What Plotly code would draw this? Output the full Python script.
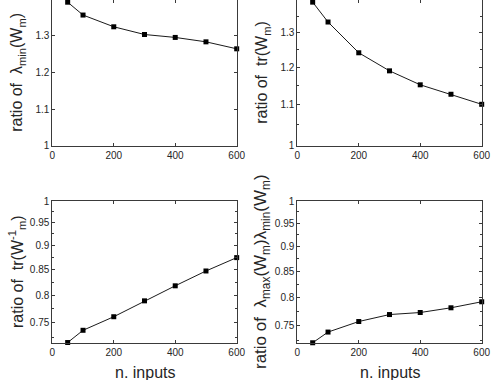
import numpy as np
import plotly.graph_objects as go
from plotly.subplots import make_subplots

# --- data ---
n_inputs = [50, 100, 200, 300, 400, 500, 600]
ratio_lmin = [1.391, 1.356, 1.324, 1.303, 1.295, 1.283, 1.264]
ratio_tr = [1.396, 1.333, 1.241, 1.190, 1.152, 1.127, 1.101]
ratio_tr_inv = [0.7156, 0.7366, 0.7606, 0.7897, 0.8183, 0.8475, 0.8747]
ratio_cond = [0.7210, 0.7390, 0.7572, 0.7695, 0.7731, 0.7816, 0.7925]

x_ticks = [0, 200, 400, 600]
top_ticks = [1, 1.1, 1.2, 1.3]
top_minor = [1.05, 1.15, 1.25, 1.35]
bot_ticks = [0.75, 0.8, 0.85, 0.9, 0.95, 1]
bot_minor = [0.725, 0.775, 0.825, 0.875, 0.925, 0.975]

titles = [
    "ratio of  λ<sub>min</sub>(W<sub>m</sub>)",
    "ratio of  tr(W<sub>m</sub>)",
    "ratio of  tr(W<sup>-1</sup><sub>m</sub>)",
    "ratio of  λ<sub>max</sub>(W<sub>m</sub>)λ<sub>min</sub>(W<sub>m</sub>)",
]

W, H = 491, 380
FONT = "Liberation Sans, Arial, sans-serif"
AXC = "#3a3a3a"

fig = make_subplots(rows=2, cols=2)

series = [ratio_lmin, ratio_tr, ratio_tr_inv, ratio_cond]
cells = [(1, 1), (1, 2), (2, 1), (2, 2)]
for (r, c), ys in zip(cells, series):
    fig.add_trace(go.Scatter(
        x=n_inputs, y=ys, mode="lines+markers",
        line=dict(color="#1a1a1a", width=1),
        marker=dict(symbol="square", size=5, color="black"),
        cliponaxis=False, showlegend=False), row=r, col=c)

# axes positions in pixels -> paper
xl = [52.3 / W, 236.7 / W]
xr = [297.3 / W, 481.7 / W]
yt = [1 - 145.7 / H, 1.0]
yb = [1 - 343 / H, 1 - 201 / H]

common_x = dict(range=[0, 600], tickvals=x_ticks, ticks="inside", ticklen=3,
                showline=True, linecolor=AXC, linewidth=1, mirror="allticks",
                tickcolor=AXC, showgrid=False, zeroline=False, automargin=False,
                tickfont=dict(size=10, color="#262626", family=FONT))
common_y = dict(ticks="inside", ticklen=3, showline=True, linecolor=AXC,
                linewidth=1, mirror="allticks", tickcolor=AXC, showgrid=False,
                zeroline=False, automargin=False,
                tickfont=dict(size=10, color="#262626", family=FONT))

fig.update_layout(
    xaxis=dict(domain=xl, **common_x),
    xaxis2=dict(domain=xr, **common_x),
    xaxis3=dict(domain=xl, **common_x),
    xaxis4=dict(domain=xr, **common_x),
    yaxis=dict(domain=yt, range=[1, 1.397], tickvals=top_ticks,
               ticktext=["1", "1.1", "1.2", "1.3"], **common_y),
    yaxis2=dict(domain=yt, type="log", range=[0, np.log10(1.403)],
                tickvals=top_ticks, ticktext=["1", "1.1", "1.2", "1.3"],
                minor=dict(tickvals=top_minor, ticks="inside", ticklen=2, tickcolor=AXC),
                **common_y),
    yaxis3=dict(domain=yb, type="log", range=[np.log10(0.7148), 0],
                tickvals=bot_ticks, ticktext=["0.75", "0.8", "0.85", "0.9", "0.95", "1"],
                minor=dict(tickvals=bot_minor, ticks="inside", ticklen=2, tickcolor=AXC),
                **common_y),
    yaxis4=dict(domain=yb, type="log", range=[np.log10(0.7206), 0],
                tickvals=bot_ticks, ticktext=["0.75", "0.8", "0.85", "0.9", "0.95", "1"],
                minor=dict(tickvals=bot_minor, ticks="inside", ticklen=2, tickcolor=AXC),
                **common_y),
)

# x titles on the bottom row
for ax, dom in (("xaxis3", xl), ("xaxis4", xr)):
    fig.add_annotation(text="n. inputs", xref="paper", yref="paper",
                       x=(dom[0] + dom[1]) / 2, y=1 - 372 / H, xanchor="center",
                       yanchor="middle", showarrow=False,
                       font=dict(size=16, color="#262626", family=FONT))

# y titles, rotated
title_pos = [(18, yt, 16), (263, yt, 16), (17, yb, 16), (262, yb, 17)]
for text, (px, dom, fs) in zip(titles, title_pos):
    fig.add_annotation(text=text, xref="paper", yref="paper",
                       x=px / W, y=(dom[0] + dom[1]) / 2, textangle=-90,
                       xanchor="center", yanchor="middle", showarrow=False,
                       font=dict(size=fs, color="#262626", family=FONT))

fig.update_layout(width=W, height=H, margin=dict(l=0, r=0, t=0, b=0),
                  plot_bgcolor="white", paper_bgcolor="white")

# page body has a default 8px margin; drop it so the figure sits at 0,0
fig.write_html("out.html", config={"displayModeBar": False},
               post_script="document.body.style.margin='0';")
